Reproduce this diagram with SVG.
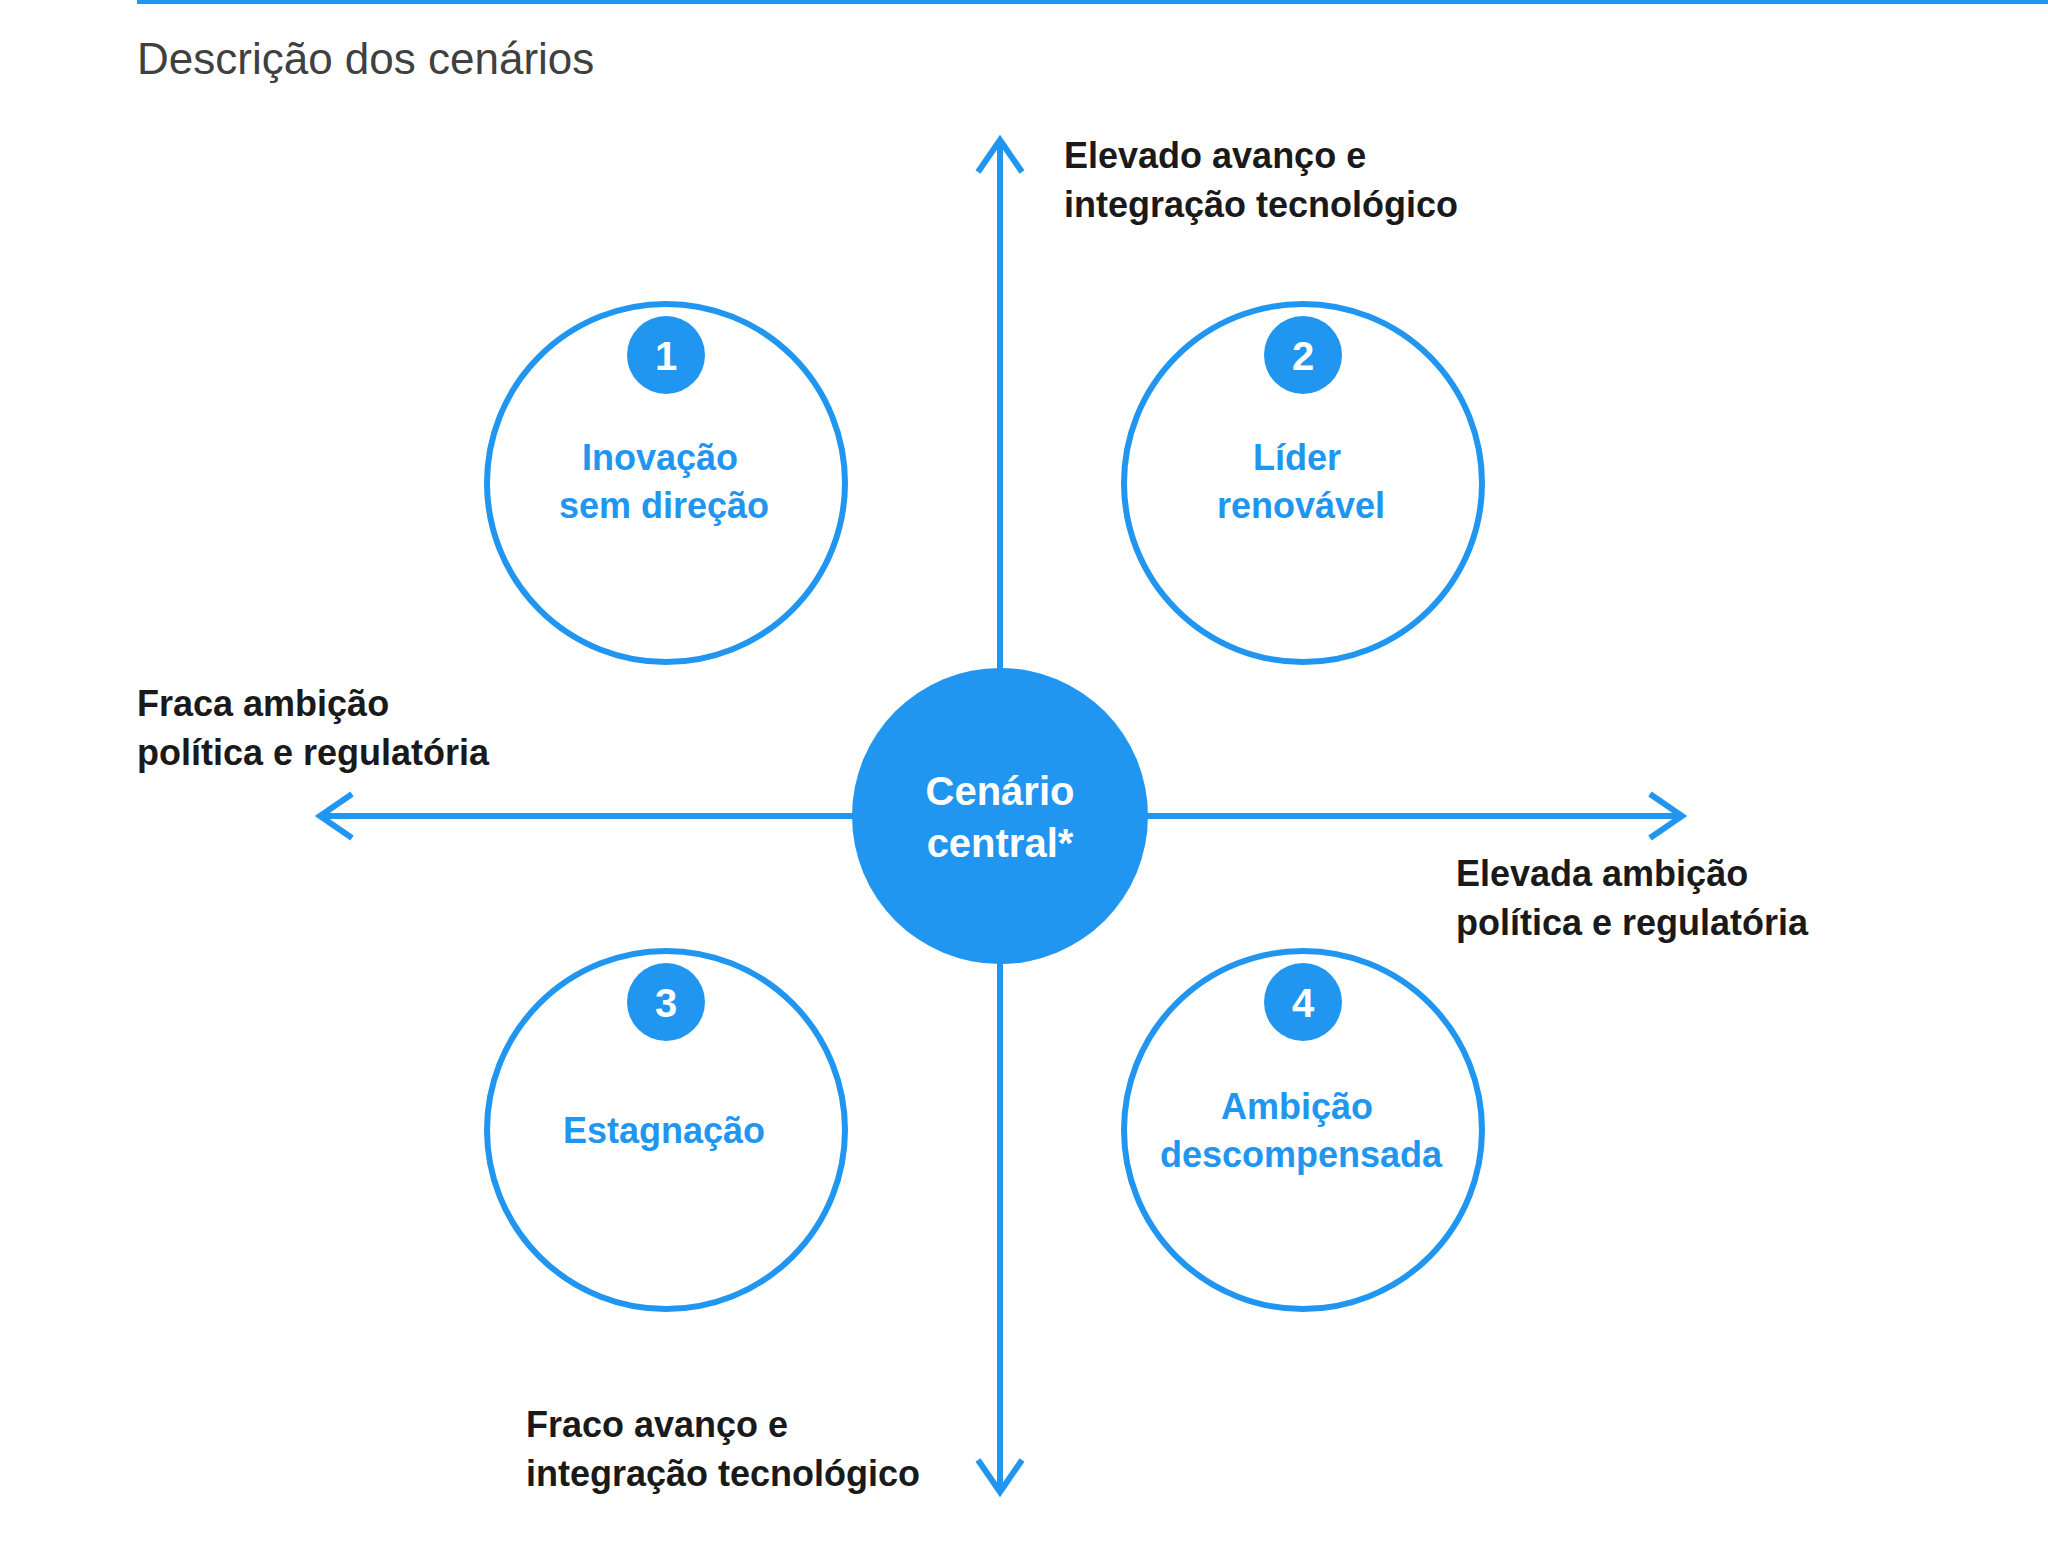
<svg xmlns="http://www.w3.org/2000/svg" width="2048" height="1563" viewBox="0 0 2048 1563">
<style>
.ax{stroke:#2196F0;stroke-width:6;fill:none}
.ring{fill:#fff;stroke:#2196F0;stroke-width:6}
.lbl{font-family:"Liberation Sans",Arial,sans-serif;font-weight:bold;font-size:36px;fill:#1a1a1a}
.in{font-family:"Liberation Sans",Arial,sans-serif;font-weight:bold;font-size:36px;fill:#2196F0;text-anchor:middle}
.num{font-family:"Liberation Sans",Arial,sans-serif;font-weight:bold;font-size:40px;fill:#fff;text-anchor:middle}
</style>
<rect width="2048" height="1563" fill="#fff"/>
<rect x="137" y="0" width="1911" height="4" fill="#2196F0"/>
<text x="137" y="74" font-family="'Liberation Sans',Arial,sans-serif" font-size="44" fill="#404040">Descrição dos cenários</text>
<g id="connectors">
<line class="ax" x1="1000" y1="142" x2="1000" y2="1490"/>
<line class="ax" x1="322" y1="816" x2="1680" y2="816"/>
<polyline class="ax" points="978,172 1000,140 1022,172"/>
<polyline class="ax" points="978,1460 1000,1492 1022,1460"/>
<polyline class="ax" points="352,794 320,816 352,838"/>
<polyline class="ax" points="1650,794 1682,816 1650,838"/>
</g>
<g id="center"><circle cx="1000" cy="816" r="148" fill="#2196F0"/>
<text class="num" x="1000" y="805">Cenário</text><text class="num" x="1000" y="857">central*</text></g>
<g id="n1"><circle class="ring" cx="666" cy="483" r="179"/><circle cx="666" cy="355" r="39" fill="#2196F0"/><text class="num" x="666" y="370">1</text>
<text class="in" x="660" y="470">Inovação</text><text class="in" x="664" y="518">sem direção</text></g>
<g id="n2"><circle class="ring" cx="1303" cy="483" r="179"/><circle cx="1303" cy="355" r="39" fill="#2196F0"/><text class="num" x="1303" y="370">2</text>
<text class="in" x="1297" y="470">Líder</text><text class="in" x="1301" y="518">renovável</text></g>
<g id="n3"><circle class="ring" cx="666" cy="1130" r="179"/><circle cx="666" cy="1002" r="39" fill="#2196F0"/><text class="num" x="666" y="1017">3</text>
<text class="in" x="664" y="1143">Estagnação</text></g>
<g id="n4"><circle class="ring" cx="1303" cy="1130" r="179"/><circle cx="1303" cy="1002" r="39" fill="#2196F0"/><text class="num" x="1303" y="1017">4</text>
<text class="in" x="1297" y="1119">Ambição</text><text class="in" x="1301" y="1167">descompensada</text></g>
<g id="labels">
<text class="lbl" x="1064" y="168">Elevado avanço e</text><text class="lbl" x="1064" y="217">integração tecnológico</text>
<text class="lbl" x="137" y="716">Fraca ambição</text><text class="lbl" x="137" y="765">política e regulatória</text>
<text class="lbl" x="1456" y="886">Elevada ambição</text><text class="lbl" x="1456" y="935">política e regulatória</text>
<text class="lbl" x="526" y="1437">Fraco avanço e</text><text class="lbl" x="526" y="1486">integração tecnológico</text>
</g>
</svg>
